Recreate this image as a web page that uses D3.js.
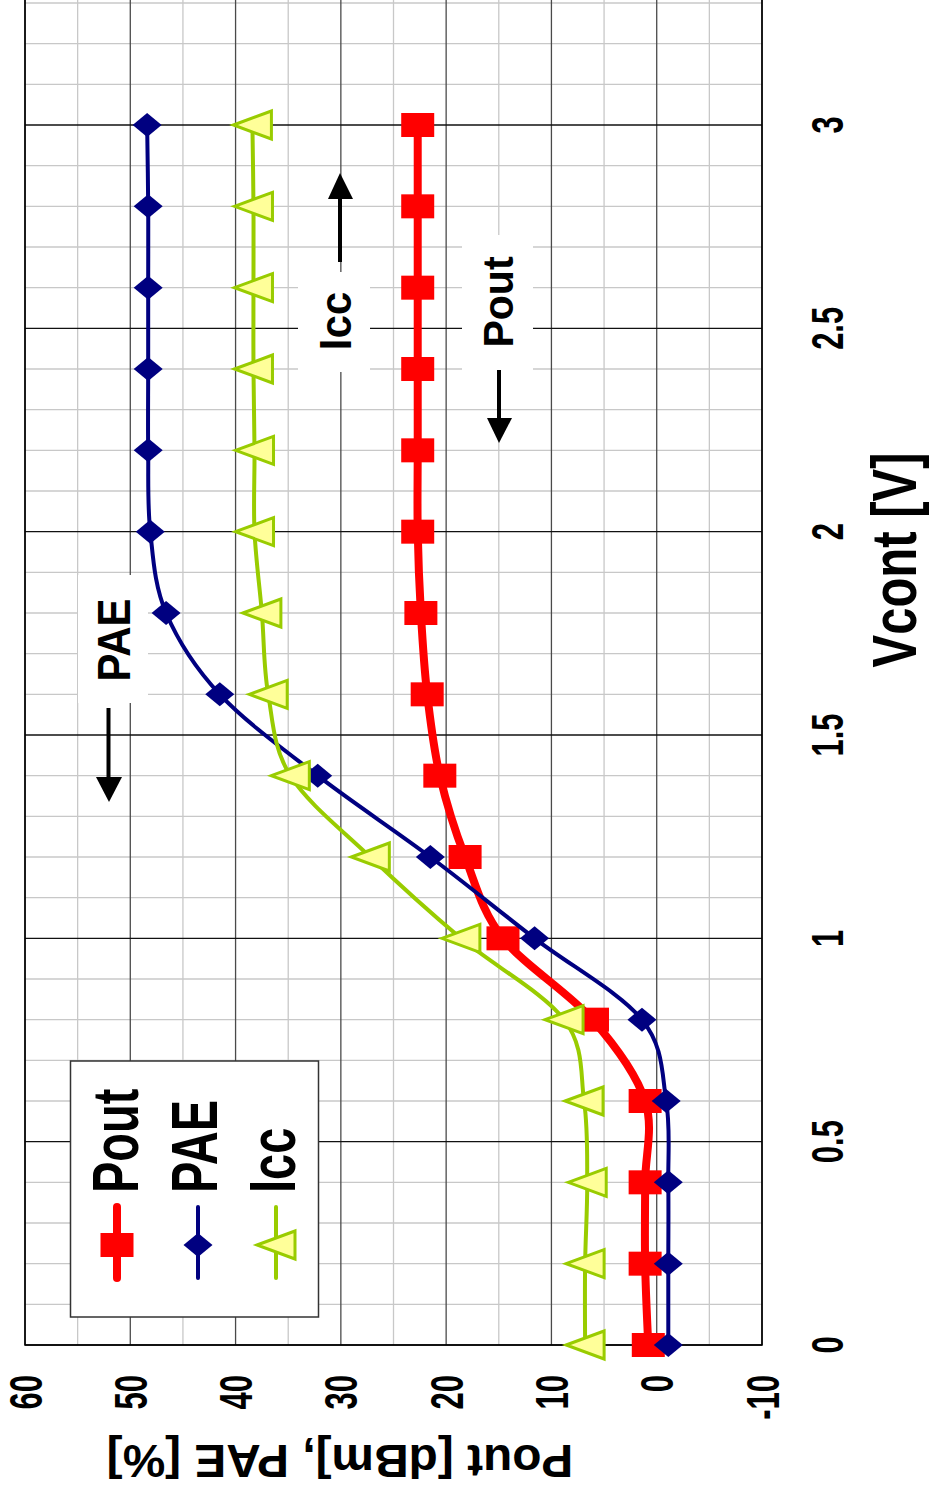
<!DOCTYPE html>
<html>
<head>
<meta charset="utf-8">
<script src="https://d3js.org/d3.v7.min.js"></script>
<style>
  body { margin: 0; background: #fff; }
  text { font-family: Arial, "Liberation Sans", sans-serif; font-weight: bold; fill: #000; }
</style>
</head>
<body>
<script>
// chart is shown turned a quarter turn: Vcont runs up the page, Pout/PAE runs right-to-left
var vcont = [0, 0.2, 0.4, 0.6, 0.8, 1.0, 1.2, 1.4, 1.6, 1.8, 2.0, 2.2, 2.4, 2.6, 2.8, 3.0];
var pout  = [0.8, 1.1, 1.1, 1.1, 6.1, 14.6, 18.2, 20.6, 21.8, 22.4, 22.7, 22.7, 22.7, 22.7, 22.7, 22.7];
var pae   = [-1.1, -1.1, -1.1, -0.9, 1.4, 11.6, 21.5, 32.2, 41.5, 46.6, 48.1, 48.3, 48.3, 48.3, 48.3, 48.4];
var icc   = [6.8, 6.8, 6.6, 6.9, 8.8, 18.6, 27.2, 34.8, 36.9, 37.5, 38.2, 38.2, 38.3, 38.3, 38.3, 38.4];
var seriesNames = ["Pout", "PAE", "Icc"];
var poutTicks = [-10, 0, 10, 20, 30, 40, 50, 60];
var vTicks = [0, 0.5, 1, 1.5, 2, 2.5, 3];

var W = 931, H = 1493;
var svg = d3.select("body").append("svg").attr("width", W).attr("height", H);

var yV = d3.scaleLinear().domain([0, 3]).range([1345, 125]);
var xP = d3.scaleLinear().domain([-10, 60]).range([762, 25]);

// grid
var grid = svg.append("g");
d3.range(1, 34).filter(function(i) { return i % 5 != 0; }).forEach(function(i) {
    grid.append("line")
        .attr("x1", 25).attr("x2", 762)
        .attr("y1", yV(i / 10)).attr("y2", yV(i / 10))
        .style("stroke", "#c8c8c8").style("stroke-width", 1.3);
});
d3.range(-5, 60, 10).forEach(function(p) {
    grid.append("line")
        .attr("x1", xP(p)).attr("x2", xP(p))
        .attr("y1", 0).attr("y2", 1345)
        .style("stroke", "#c8c8c8").style("stroke-width", 1.3);
});
poutTicks.forEach(function(p) {
    grid.append("line")
        .attr("x1", xP(p)).attr("x2", xP(p))
        .attr("y1", 0).attr("y2", 1345)
        .style("stroke", "#4a4a4a").style("stroke-width", 1.3);
});
vTicks.forEach(function(v) {
    grid.append("line")
        .attr("x1", 25).attr("x2", 762)
        .attr("y1", yV(v)).attr("y2", yV(v))
        .style("stroke", "#111").style("stroke-width", 1.3);
});
// plot border
svg.append("path")
    .attr("d", "M25,0 V1345 H762 V0")
    .style("fill", "none").style("stroke", "#000").style("stroke-width", 1.6);

// text helpers
function upText(x, y, str, size, k, anchor) {
    return svg.append("text")
        .attr("transform", "translate(" + x + "," + y + ") rotate(-90) scale(1," + k + ")")
        .attr("text-anchor", anchor)
        .style("font-size", size + "px")
        .text(str);
}

// annotations (white boxes, labels, arrows)
var notes = [
    {text: "PAE",  box: [78, 575, 70, 128],  base: 130, mid: 640, size: 42, k: 1.1,
     shaft: [108.5, 708, 779], head: [[96, 777], [122, 777], [109, 802]]},
    {text: "Icc",  box: [298, 272, 72, 100], base: 351, mid: 321, size: 42, k: 1.04,
     shaft: [340, 262, 197], head: [[328, 199], [353, 199], [340, 173]]},
    {text: "Pout", box: [462, 235, 71, 135], base: 513, mid: 302, size: 41, k: 1.03,
     shaft: [499, 370, 420], head: [[487, 418], [512, 418], [499, 443]]}
];
notes.forEach(function(n) {
    svg.append("rect")
        .attr("x", n.box[0]).attr("y", n.box[1])
        .attr("width", n.box[2]).attr("height", n.box[3])
        .style("fill", "#fff");
    upText(n.base, n.mid, n.text, n.size, n.k, "middle");
    svg.append("line")
        .attr("x1", n.shaft[0]).attr("x2", n.shaft[0])
        .attr("y1", n.shaft[1]).attr("y2", n.shaft[2])
        .style("stroke", "#000").style("stroke-width", 4);
    svg.append("path")
        .attr("d", "M" + n.head.join("L") + "Z")
        .style("fill", "#000");
});

// series
var styles = {
    Pout: {color: "#ff0000", width: 8},
    PAE:  {color: "#000080", width: 4},
    Icc:  {color: "#99cc00", width: 4}
};
var values = {Pout: pout, PAE: pae, Icc: icc};

function marker(g, name, cx, cy) {
    if (name == "Pout") {
        g.append("rect")
            .attr("x", cx - 16.5).attr("y", cy - 12)
            .attr("width", 33).attr("height", 24)
            .style("fill", "#ff0000");
    } else if (name == "PAE") {
        g.append("path")
            .attr("d", "M" + (cx - 14.5) + "," + cy + "L" + cx + "," + (cy - 12) +
                       "L" + (cx + 14.5) + "," + cy + "L" + cx + "," + (cy + 12) + "Z")
            .style("fill", "#000080");
    } else {
        g.append("path")
            .attr("d", "M" + (cx - 19) + "," + cy + "L" + (cx + 19) + "," + (cy - 14) +
                       "L" + (cx + 19) + "," + (cy + 14) + "Z")
            .style("fill", "#ffff99").style("stroke", "#99cc00").style("stroke-width", 3);
    }
}

var line = d3.line()
    .x(function(d) { return xP(d[1]); })
    .y(function(d) { return yV(d[0]); })
    .curve(d3.curveCardinal.tension(0));

seriesNames.forEach(function(name) {
    var data = vcont.map(function(v, i) { return [v, values[name][i]]; });
    var g = svg.append("g");
    g.append("path")
        .attr("d", line(data))
        .style("fill", "none")
        .style("stroke", styles[name].color)
        .style("stroke-width", styles[name].width)
        .style("stroke-linejoin", "round");
    data.forEach(function(d) { marker(g, name, xP(d[1]), yV(d[0])); });
});

// axis labels
poutTicks.forEach(function(p) {
    upText(xP(p) + 16.5, 1375, p, 31, 1.48, "end");
});
vTicks.forEach(function(v) {
    upText(843, yV(v), v, 31, 1.44, "middle");
});
upText(916, 560, "Vcont [V]", 49, 1.3, "middle");
svg.append("text")
    .attr("transform", "translate(340,1445) rotate(180) scale(1.04,1)")
    .attr("text-anchor", "middle")
    .style("font-size", "46px")
    .text("Pout [dBm], PAE [%]");

// legend
var legend = svg.append("g");
legend.append("rect")
    .attr("x", 70.5).attr("y", 1061)
    .attr("width", 248).attr("height", 256)
    .style("fill", "#fff").style("stroke", "#333").style("stroke-width", 1.5);
var legX = [117, 198, 276];
var legBase = [138, 216.5, 295];
seriesNames.forEach(function(name, i) {
    legend.append("line")
        .attr("x1", legX[i]).attr("x2", legX[i])
        .attr("y1", 1207).attr("y2", 1278)
        .style("stroke", styles[name].color)
        .style("stroke-width", styles[name].width)
        .style("stroke-linecap", "round");
    marker(legend, name, legX[i], 1245);
    upText(legBase[i], 1193, name, 47, 1.37, "start");
});
</script>
</body>
</html>
